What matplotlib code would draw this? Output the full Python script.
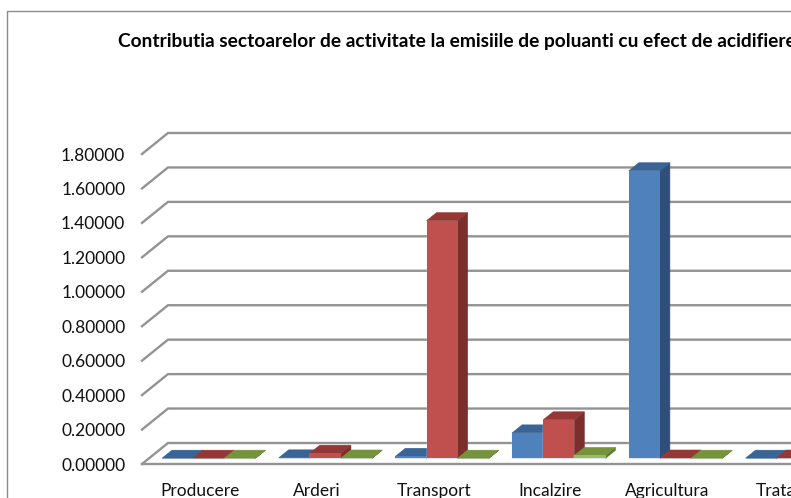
import matplotlib
matplotlib.use("Agg")
import matplotlib.pyplot as plt
from matplotlib.patches import Polygon, Rectangle

plt.rcParams['font.family'] = ['Lato', 'DejaVu Sans']

categories = ["Producere", "Arderi", "Transport", "Incalzire", "Agricultura", "Tratare"]
y_ticks = [0.0, 0.2, 0.4, 0.6, 0.8, 1.0, 1.2, 1.4, 1.6, 1.8]

serie_1 = [0.001, 0.003, 0.012, 0.148, 1.67, 0.001]
serie_2 = [0.001, 0.03, 1.38, 0.224, 0.002, 0.002]
serie_3 = [0.001, 0.002, 0.001, 0.017, 0.001, 0.001]
series = [serie_1, serie_2, serie_3]

# front, top, side
colors = [("#4F81BD", "#3A6496", "#2F4F78"),
          ("#C0504D", "#953735", "#7C2E2C"),
          ("#9BBB59", "#76923C", "#5F7A2E")]

GRID = "#939393"
# oblique projection, one unit of depth = whole floor
DX = 26 / 116.7
DY = 21 / 172.2


def proj(x, y, d):
    return x + d * DX, y + d * DY


def poly(ax, pts, color, z):
    ax.add_patch(Polygon([proj(*p) for p in pts], closed=True, facecolor=color,
                         edgecolor=color, linewidth=0.4, zorder=z, clip_on=False))


def draw_bar(ax, x, w, h, cols, z):
    d0, d1 = 0.27, 0.65
    # light halo around the front face
    ax.add_patch(Rectangle(proj(x, 0, d0), w, h, facecolor=cols[0], edgecolor="#DCE6F1",
                           linewidth=1.0, zorder=z, clip_on=False))
    poly(ax, [(x + w, 0, d0), (x + w, 0, d1), (x + w, h, d1), (x + w, h, d0)], cols[2], z)
    poly(ax, [(x, h, d0), (x + w, h, d0), (x + w, h, d1), (x, h, d1)], cols[1], z + 0.1)
    ax.add_patch(Rectangle(proj(x, 0, d0), w, h, facecolor=cols[0], edgecolor="none",
                           zorder=z + 0.2, clip_on=False))


fig = plt.figure(figsize=(7.91, 4.98), dpi=100)
ax = fig.add_axes([142 / 791, (498 - 464) / 498, (791 - 142) / 791, 310 / 498])
ax.set_xlim(0, (791 - 142) / 116.7)
ax.set_ylim(0, 1.8)
ax.patch.set_visible(False)
for s in ax.spines.values():
    s.set_visible(False)

x_end = ax.get_xlim()[1]
for t in y_ticks:
    xs, ys = zip(proj(0, t, 0), proj(0, t, 1), proj(x_end, t, 1))
    ax.plot(xs, ys, color=GRID, lw=1.7, zorder=1, clip_on=False, solid_joinstyle="miter")
# front edge of the floor
ax.plot([0, x_end], [0, 0], color=GRID, lw=1.7, zorder=1, clip_on=False)

bar_w = 0.8 / 3
for i in range(len(categories)):
    for j, vals in enumerate(series):
        draw_bar(ax, i + 0.112 + j * bar_w, bar_w, vals[i], colors[j], 3 + j)

ax.set_yticks(y_ticks)
ax.set_yticklabels([f"{t:.5f}" for t in y_ticks], fontsize=12.5, color="#111111")
ax.set_xticks([i + 0.5 for i in range(len(categories))])
ax.set_xticklabels(categories, fontsize=12.5, color="#111111")
ax.tick_params(axis="y", length=0, pad=12)
ax.tick_params(axis="x", length=0, pad=14)

# outer chart frame, cropped on the right and bottom
fig.add_artist(plt.Line2D([7 / 791, 7 / 791, 1], [0, 1 - 11.5 / 498, 1 - 11.5 / 498],
                          color="#8C8C8C", lw=1.0))

fig.text(118 / 791, 1 - 41 / 498,
         "Contributia sectoarelor de activitate la emisiile de poluanti cu efect de acidifiere",
         fontsize=13.75, fontweight="bold", color="#000000", va="center", ha="left")

fig.savefig("out.png", dpi=100)
